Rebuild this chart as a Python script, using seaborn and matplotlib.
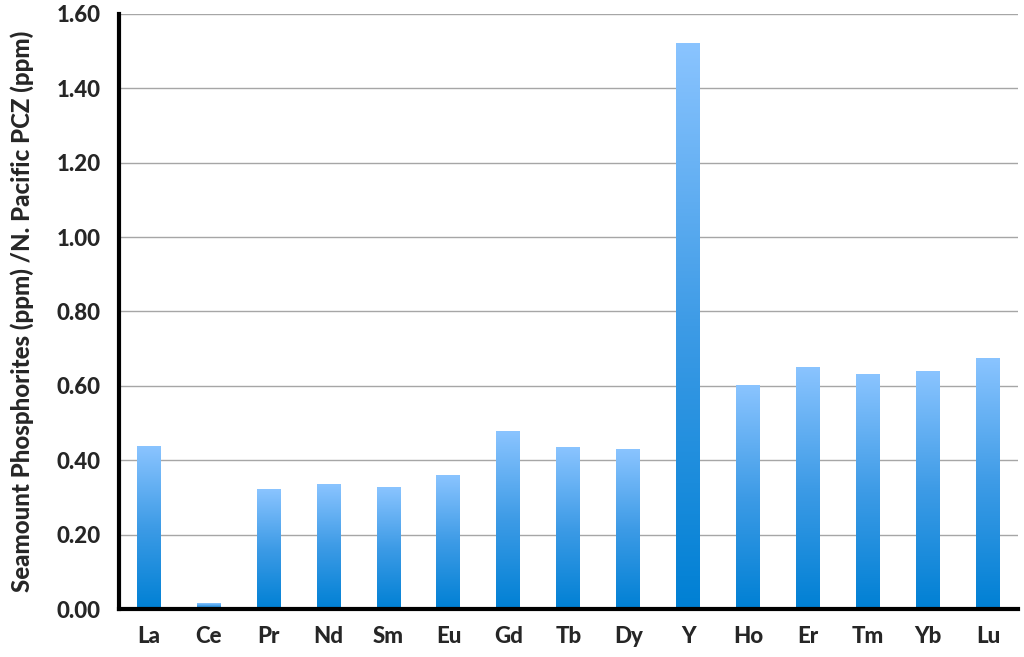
import seaborn as sns
import pandas as pd
import matplotlib
matplotlib.use("Agg")
import matplotlib.pyplot as plt
import numpy as np
from matplotlib.colors import LinearSegmentedColormap
from matplotlib.ticker import FixedLocator, FormatStrFormatter

# data
elements = ['La', 'Ce', 'Pr', 'Nd', 'Sm', 'Eu', 'Gd', 'Tb', 'Dy', 'Y', 'Ho', 'Er', 'Tm', 'Yb', 'Lu']
ratios = [0.438, 0.016, 0.322, 0.335, 0.326, 0.360, 0.476, 0.433, 0.428, 1.519, 0.602, 0.648, 0.629, 0.638, 0.674]
y_ticks = [0.0, 0.2, 0.4, 0.6, 0.8, 1.0, 1.2, 1.4, 1.6]

df = pd.DataFrame({'element': elements, 'ratio': ratios})

sns.set_style("white")
plt.rcParams['font.family'] = ['Lato', 'DejaVu Sans']

fig = plt.figure(figsize=(10.24, 6.57), dpi=100)
ax = fig.add_axes([0.116, 0.073, 0.878, 0.906])

# bars (drawn by seaborn, then filled with a vertical gradient)
sns.barplot(data=df, x='element', y='ratio', ax=ax, width=0.4, color='#3a9ae8',
            edgecolor='none', zorder=3)

cmap = LinearSegmentedColormap.from_list('bluegrad', ['#0080d4', '#3d9be6', '#8ac4ff'])
grad = np.linspace(0, 1, 256).reshape(-1, 1)
for p in ax.patches:
    x0, y0 = p.get_x(), p.get_y()
    w, h = p.get_width(), p.get_height()
    ax.imshow(grad, extent=[x0, x0 + w, y0, y0 + h], origin='lower', aspect='auto',
              cmap=cmap, zorder=3)
    p.set_facecolor('none')

ax.set_xlim(-0.5, len(elements) - 0.5)
ax.set_ylim(0, 1.6)
ax.set_aspect('auto')

# grid
ax.yaxis.set_major_locator(FixedLocator(y_ticks))
ax.yaxis.set_major_formatter(FormatStrFormatter('%.2f'))
ax.grid(True, axis='y', color='#a6a6a6', linewidth=1.0, zorder=0)
ax.grid(False, axis='x')

# spines
for s in ['top', 'right']:
    ax.spines[s].set_visible(False)
ax.spines['left'].set_color('black')
ax.spines['left'].set_linewidth(3)
ax.spines['bottom'].set_color('black')
ax.spines['bottom'].set_linewidth(3)
ax.spines['left'].set_zorder(5)
ax.spines['bottom'].set_zorder(5)

# ticks
ax.xaxis.set_minor_locator(FixedLocator(np.arange(-0.5, len(elements), 1.0)))
ax.tick_params(axis='x', which='major', length=0, pad=12, labelsize=16)
ax.tick_params(axis='x', which='minor', direction='out', length=7, width=1, color='#a6a6a6')
ax.tick_params(axis='y', which='major', direction='out', length=6, width=1, color='#a6a6a6',
               labelsize=16, pad=7)
for lab in ax.get_xticklabels() + ax.get_yticklabels():
    lab.set_fontweight('black')

ax.set_xlabel('')
ax.set_ylabel('Seamount Phosphorites (ppm) /N. Pacific PCZ (ppm)', fontsize=17.3,
              fontweight='black', labelpad=16)

fig.savefig('out.png', dpi=100)
